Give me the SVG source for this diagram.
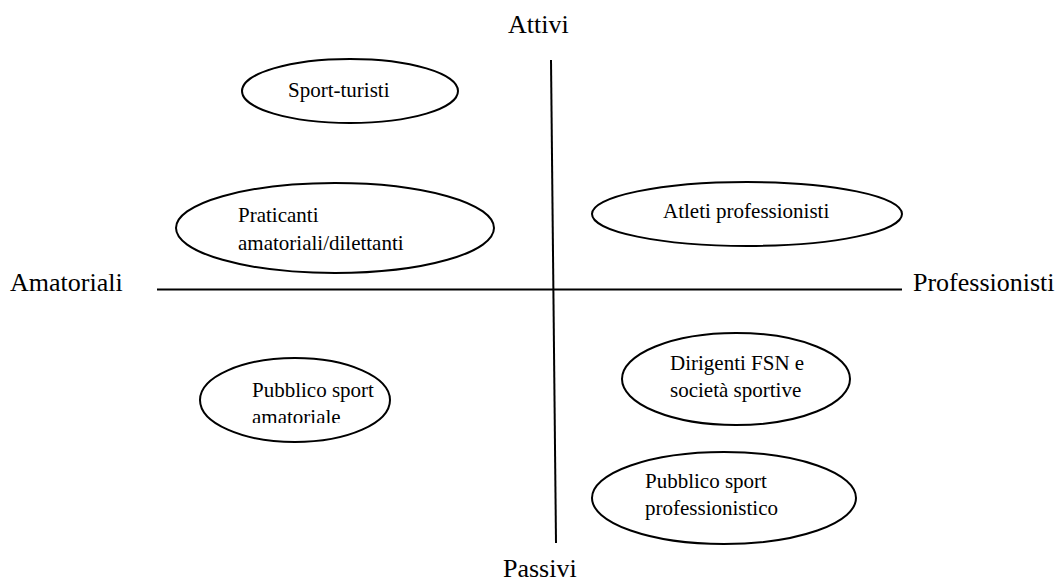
<svg xmlns="http://www.w3.org/2000/svg" width="1059" height="588" viewBox="0 0 1059 588">
<style>
.axis{stroke:#000;stroke-width:2;fill:none}
.node ellipse{fill:#fff;stroke:#000;stroke-width:2}
text{font-family:"Liberation Serif","Times New Roman",serif;fill:#000}
.lbl{font-size:26px}
.t{font-size:21px}
</style>
<defs>
<clipPath id="clip4"><rect x="190" y="360" width="220" height="63"/></clipPath>
</defs>
<rect width="1059" height="588" fill="#fff"/>
<g id="connectors">
<line class="axis" x1="157" y1="289.5" x2="902" y2="289.5"/>
<line class="axis" x1="551" y1="60" x2="556" y2="543"/>
</g>
<g id="axis-labels">
<text class="lbl" x="508" y="33">Attivi</text>
<text class="lbl" x="503" y="577">Passivi</text>
<text class="lbl" x="10" y="291">Amatoriali</text>
<text class="lbl" x="913" y="291">Professionisti</text>
</g>
<g id="n1" class="node">
<ellipse cx="350" cy="91" rx="108" ry="32"/>
<text class="t" x="288" y="97">Sport-turisti</text>
</g>
<g id="n2" class="node">
<ellipse cx="335" cy="228" rx="159" ry="45"/>
<text class="t" x="238" y="222">Praticanti</text>
<text class="t" x="238" y="250">amatoriali/dilettanti</text>
</g>
<g id="n3" class="node">
<ellipse cx="747" cy="214" rx="155" ry="32"/>
<text class="t" x="663" y="218">Atleti professionisti</text>
</g>
<g id="n4" class="node">
<ellipse cx="295" cy="400" rx="95" ry="42"/>
<text class="t" x="252" y="397">Pubblico sport</text>
<text class="t" x="252" y="424" clip-path="url(#clip4)">amatoriale</text>
</g>
<g id="n5" class="node">
<ellipse cx="736" cy="379" rx="114" ry="46"/>
<text class="t" x="670" y="370">Dirigenti FSN e</text>
<text class="t" x="670" y="397">società sportive</text>
</g>
<g id="n6" class="node">
<ellipse cx="724" cy="498" rx="132" ry="46"/>
<text class="t" x="645" y="488">Pubblico sport</text>
<text class="t" x="645" y="515">professionistico</text>
</g>
</svg>
